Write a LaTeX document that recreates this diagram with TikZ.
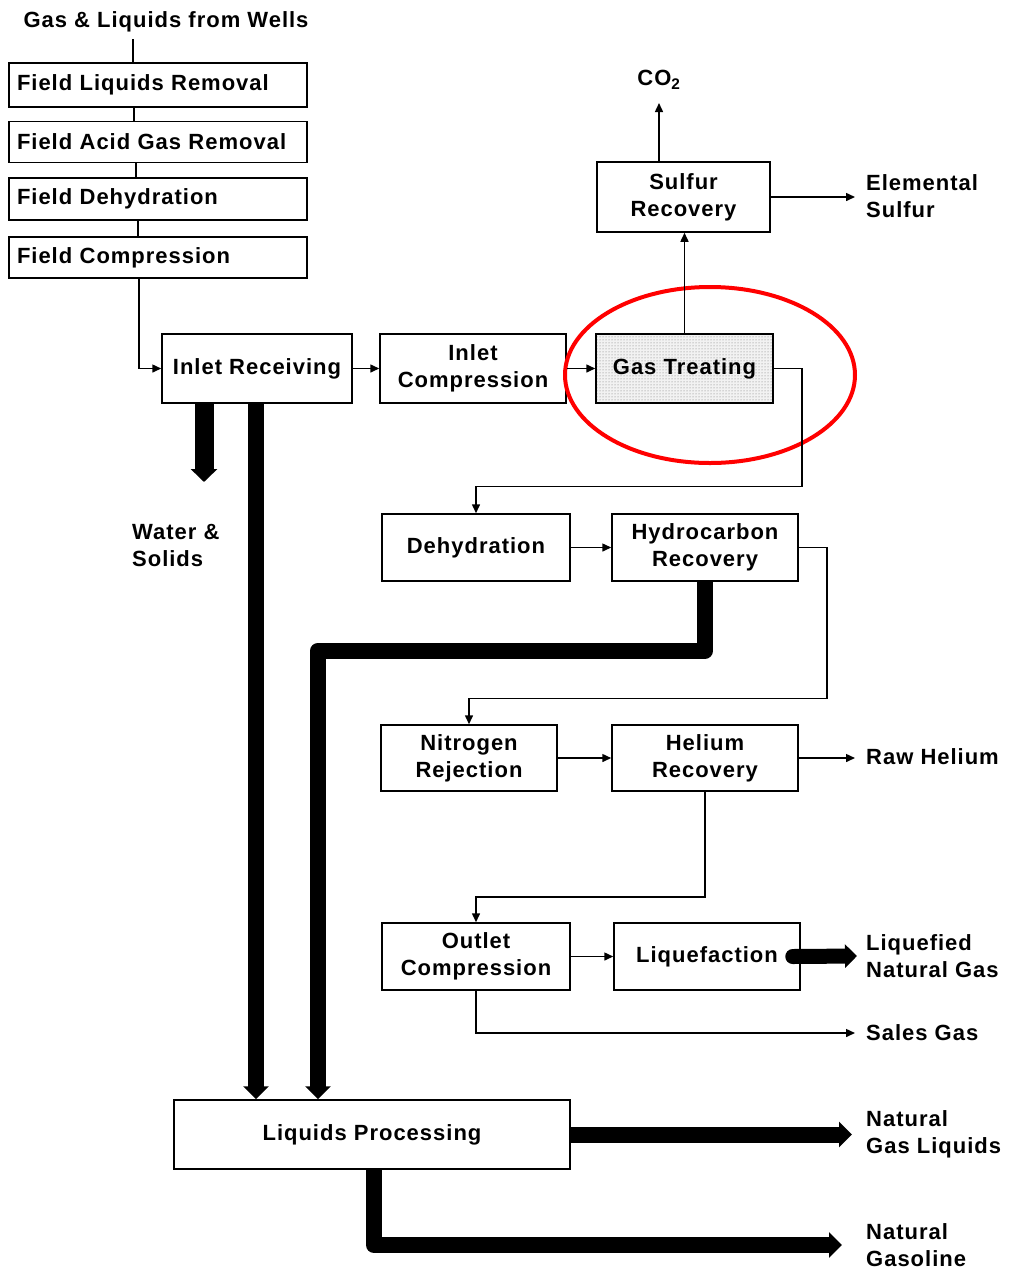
\documentclass[tikz,border=0pt]{standalone}
\usepackage{fontspec}
\setmainfont{Liberation Sans}[LetterSpace=4.5]
\usetikzlibrary{arrows.meta,patterns,calc}
\begin{document}
\begin{tikzpicture}[x=1pt,y=-1pt,
  every node/.style={font=\fontsize{22}{27}\selectfont\bfseries},
  box/.style={draw,line width=1.5pt,inner sep=0pt,align=center},
  field/.style={draw,line width=1.5pt,text width=282pt,inner xsep=8pt,inner ysep=0pt,align=left},
  lbl/.style={anchor=west,inner sep=0pt,align=left},
  arr/.style={line width=1.5pt,-{Triangle[length=9pt,width=8pt]}},
  ln/.style={line width=1.5pt},
  fat/.style={line width=16pt,line join=round,-{Triangle[length=13pt,width=25pt]}},
]
\useasboundingbox (0,0) rectangle (1009,1270);
\node[inner sep=0pt] (wells) at (166,22) {Gas \& Liquids from Wells};
\node[field,minimum height=44pt] (fl) at (158,85) {Field Liquids Removal};
\node[field,minimum height=41pt] (fa) at (158,142) {Field Acid Gas Removal};
\node[field,minimum height=42pt] (fd) at (158,199) {Field Dehydration};
\node[field,minimum height=41pt] (fc) at (158,257.5) {Field Compression};
\node[box,minimum width=190pt,minimum height=69pt] (ir) at (257,368.5) {Inlet Receiving};
\node[box,minimum width=186pt,minimum height=69pt] (ic) at (473,368.5) {Inlet\\Compression};
\node[box,minimum width=177pt,minimum height=69pt,preaction={fill=black!5},pattern=dots,pattern color=black!55] (gt) at (684.5,368.5) {};
\node (gtt) at (gt.center) {Gas Treating};
\node[box,minimum width=173pt,minimum height=70pt] (sr) at (683.5,197) {Sulfur\\Recovery};
\node[inner sep=0pt] (co2) at (659,80) {CO\textsubscript{2}};
\coordinate (co2tip) at (659,103);
\node[lbl] (es) at (866,196) {Elemental\\Sulfur};
\node[box,minimum width=188pt,minimum height=67pt] (dh) at (476,547.5) {Dehydration};
\node[box,minimum width=186pt,minimum height=67pt] (hr) at (705,547.5) {Hydrocarbon\\Recovery};
\node[box,minimum width=176pt,minimum height=66pt] (nr) at (469,758) {Nitrogen\\Rejection};
\node[box,minimum width=186pt,minimum height=66pt] (he) at (705,758) {Helium\\Recovery};
\node[lbl] (rh) at (866,757) {Raw Helium};
\node[box,minimum width=188pt,minimum height=67pt] (oc) at (476,956.5) {Outlet\\Compression};
\node[box,minimum width=186pt,minimum height=67pt] (lq) at (707,956.5) {Liquefaction};
\node[lbl] (lng) at (866,956) {Liquefied\\Natural Gas};
\node[lbl] (sg) at (866,1033) {Sales Gas};
\node[box,minimum width=396pt,minimum height=69pt] (lp) at (372,1134.5) {Liquids Processing};
\node[lbl] (ngl) at (866,1134.5) {Natural\\Gas Liquids};
\node[lbl] (ngas) at (866,1245) {Natural\\Gasoline};
\node[lbl] (ws) at (132,545) {Water \&\\Solids};
\coordinate (wsend) at (204,482);

% red highlight
\draw[red,line width=4pt] (710,375) ellipse [x radius=145pt, y radius=88pt];

% field chain
\draw[ln] ([xshift=-33pt,yshift=-7pt]wells.south) -- ([xshift=-25pt]fl.north);
\draw[ln] ([xshift=-24pt]fl.south) -- ([xshift=-24pt]fa.north);
\draw[ln] ([xshift=-22pt]fa.south) -- ([xshift=-22pt]fd.north);
\draw[ln] ([xshift=-20pt]fd.south) -- ([xshift=-20pt]fc.north);
\draw[arr] ([xshift=-19pt]fc.south) |- (ir.west);

% main gas path
\draw[arr] (ir.east) -- (ic.west);
\draw[arr] (ic.east) -- (gt.west);
\draw[arr] (gt.north) -- (gt.north |- sr.south);
\draw[arr] ([xshift=-24.5pt]sr.north) -- (co2tip);
\draw[arr] (sr.east) -- ([xshift=-11pt]sr.east -| es.west);
\draw[arr] (gt.east) -- ++(28,0) -- ++(0,118) -| (dh.north);
\draw[arr] (dh.east) -- (hr.west);
\draw[arr] (hr.east) -- ++(28,0) -- ++(0,151) -| (nr.north);
\draw[arr] (nr.east) -- (he.west);
\draw[arr] (he.east) -- ([xshift=-11pt]he.east -| rh.west);
\draw[arr] (he.south) -- ++(0,105) -| (oc.north);
\draw[arr] (oc.east) -- (lq.west);
\draw[arr] (oc.south) |- ([xshift=-11pt]sg.west);

% heavy liquid streams
\draw[fat,line width=19pt,-{Triangle[length=13pt,width=26pt]}] ([xshift=-53pt]ir.south) -- (wsend);
\draw[fat] ([xshift=-1pt]ir.south) -- ([xshift=-1pt]ir.south |- lp.north);
\draw[fat] (hr.south) -- ++(0,69) -| ([xshift=-54pt]lp.north);
\draw[fat,line width=15pt,line cap=round,-{Triangle[length=12pt,width=23pt]}] ([xshift=-8pt]lq.east) -- ([xshift=-9pt]lng.west);
\draw[fat] (lp.east) -- ([xshift=-14pt]ngl.west);
\draw[fat] ([xshift=2pt]lp.south) |- ([xshift=-24pt]ngas.west);
\end{tikzpicture}
\end{document}
